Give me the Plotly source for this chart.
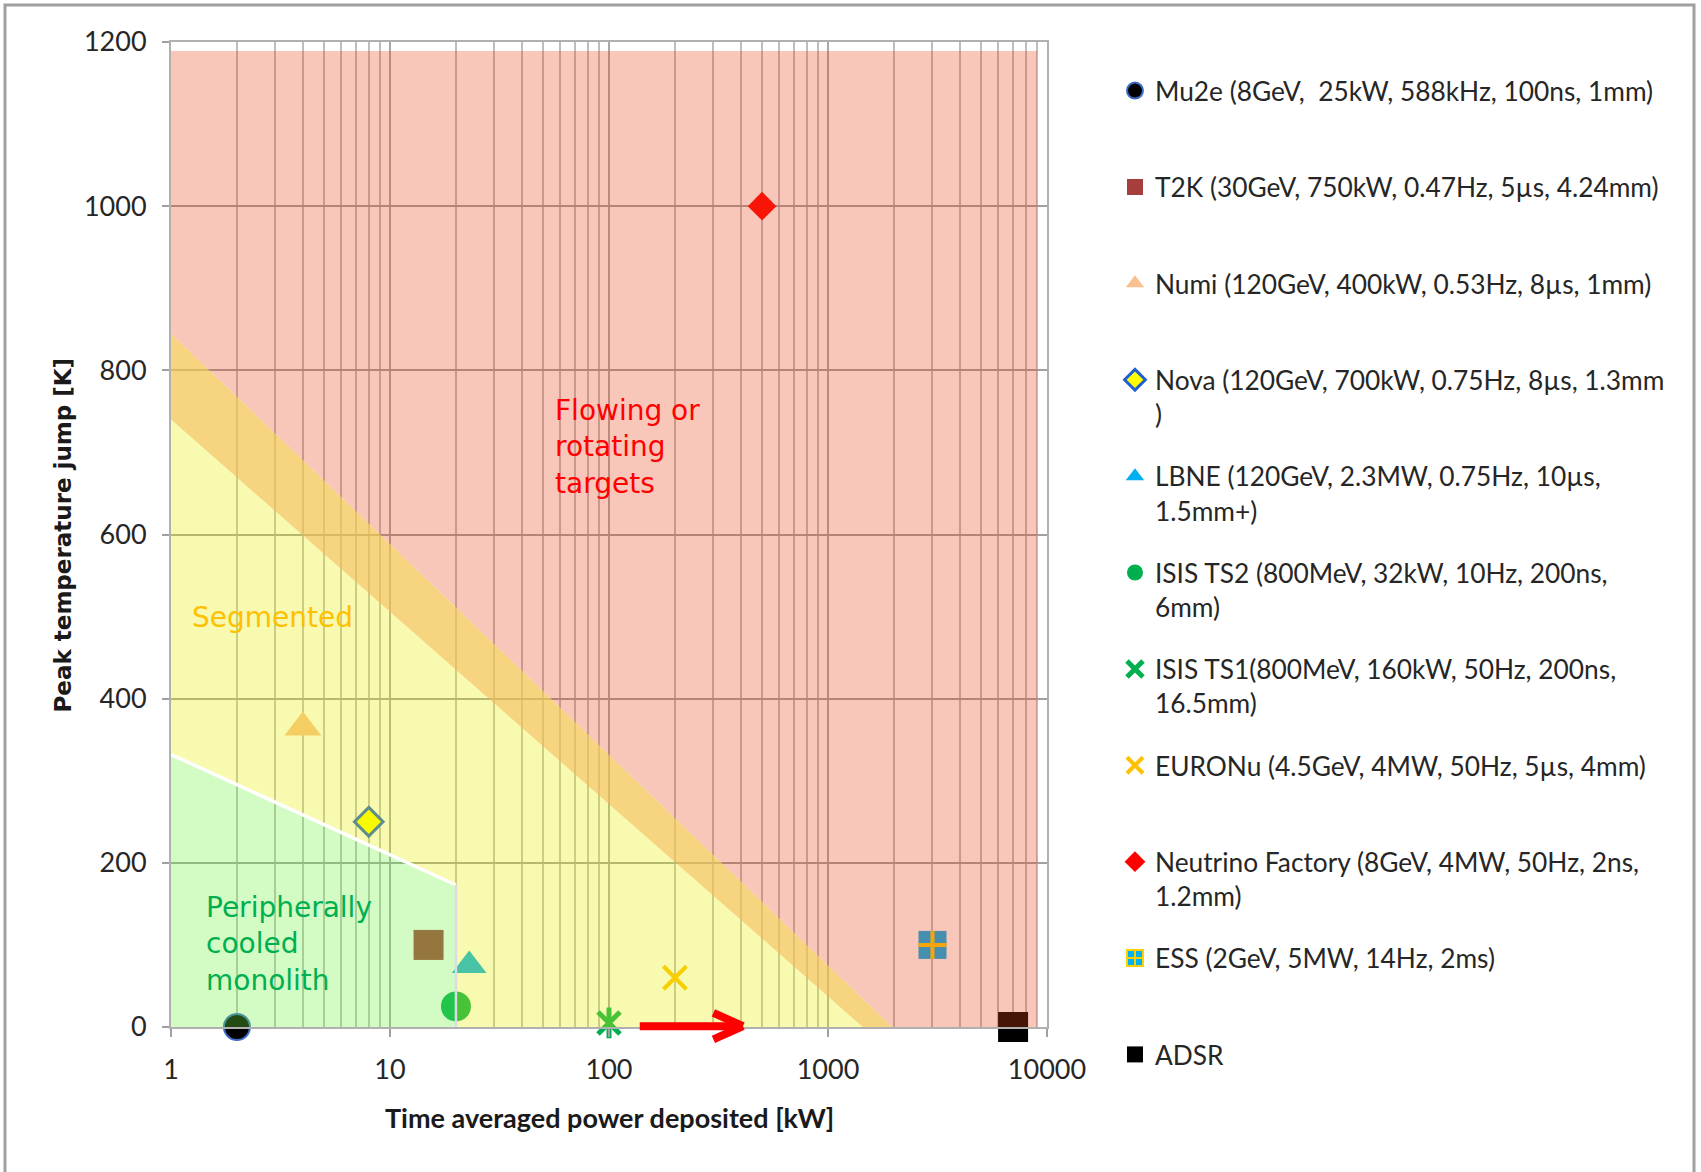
import math
import plotly.graph_objects as go

# ---------------- facility data ----------------
facility_labels = [
    "Mu2e (8GeV,  25kW, 588kHz, 100ns, 1mm)",
    "T2K (30GeV, 750kW, 0.47Hz, 5µs, 4.24mm)",
    "Numi (120GeV, 400kW, 0.53Hz, 8µs, 1mm)",
    "Nova (120GeV, 700kW, 0.75Hz, 8µs, 1.3mm<br>)",
    "LBNE (120GeV, 2.3MW, 0.75Hz, 10µs,<br>1.5mm+)",
    "ISIS TS2 (800MeV, 32kW, 10Hz, 200ns,<br>6mm)",
    "ISIS TS1(800MeV, 160kW, 50Hz, 200ns,<br>16.5mm)",
    "EURONu (4.5GeV, 4MW, 50Hz, 5µs, 4mm)",
    "Neutrino Factory (8GeV, 4MW, 50Hz, 2ns,<br>1.2mm)",
    "ESS (2GeV, 5MW, 14Hz, 2ms)",
    "ADSR",
]
power_kw = [2, 15, 4, 8, 23, 20, 100, 200, 500, 3000, 7000]
peak_dT = [0, 100, 365, 250, 75, 25, 5, 60, 1000, 100, 0]

# ---------------- design regions (kW, K) ----------------
flowing_x = [1, 1, 9000, 9000, 1960, 1]
flowing_y = [845, 1189, 1189, 0, 0, 845]
band_x = [1, 1960, 1440, 1]
band_y = [845, 0, 0, 740]
segmented_x = [1, 1440, 20, 20, 1]
segmented_y = [740, 0, 0, 173, 332]
monolith_x = [1, 20, 20, 1]
monolith_y = [332, 173, 0, 0]
monolith_edge_x = [1, 20]
monolith_edge_y = [332, 173]
monolith_side_x = [20, 20]
monolith_side_y = [173, 0]

# upgrade arrow for ISIS TS1: shaft and chevron head
arrow_x = [136, 409]
arrow_y = [1, 1]
arrow_head_x = [295, 409, 295]
arrow_head_y = [18, 1, -16]

# ---------------- axes ----------------
x_tickvals = [1, 10, 100, 1000, 10000]
x_ticktext = ["1", "10", "100", "1000", "10000"]
y_tickvals = [0, 200, 400, 600, 800, 1000, 1200]
x_minor_vals = [m * 10 ** d for d in range(4) for m in range(2, 10)]

# ---------------- marker styles ----------------
styles = [
    dict(symbol="circle", size=26, color="#000000", line=dict(color="#3B6CC6", width=2)),
    dict(symbol="square", size=30, color="#A43F3D", line=dict(width=0)),
    dict(symbol="triangle-up", size=32, color="#FAC08F", line=dict(width=0)),
    dict(symbol="diamond", size=22, color="#FFFF00", line=dict(color="#1F5FD0", width=3)),
    dict(symbol="triangle-up", size=30, color="#00B0F0", line=dict(width=0)),
    dict(symbol="circle", size=30, color="#00B050", line=dict(width=0)),
    dict(symbol="x-thin-open", size=22, color="#00B050", line=dict(color="#00B050", width=5)),
    dict(symbol="x-thin-open", size=23, color="#FFC000", line=dict(color="#FFC000", width=4)),
    dict(symbol="diamond", size=22, color="#FF0000", line=dict(width=0)),
    dict(symbol="square", size=28, color="#00B0F0", line=dict(width=0)),
    dict(symbol="square", size=30, color="#000000", line=dict(width=0)),
]

fig = go.Figure()

for i, label in enumerate(facility_labels):
    text = label if "<br>" in label else label + "<br>\u00a0"
    st = styles[i]
    group = "g%d" % i
    if label.startswith("ESS"):
        # legend entry: blue square with a yellow cross
        fig.add_trace(go.Scatter(
            x=[None], y=[None], mode="markers", name=text, legendgroup=group,
            marker=dict(symbol="square-cross", size=16, color="#00B0F0",
                        line=dict(color="#FFD000", width=2)),
        ))
        fig.add_trace(go.Scatter(
            x=[power_kw[i]], y=[peak_dT[i]], mode="markers", showlegend=False,
            legendgroup=group, cliponaxis=False, hoverinfo="skip",
            marker=dict(symbol="square", size=st["size"], color=st["color"], line=st["line"]),
        ))
        fig.add_trace(go.Scatter(
            x=[power_kw[i]], y=[peak_dT[i]], mode="markers", showlegend=False,
            legendgroup=group, cliponaxis=False, hoverinfo="skip",
            marker=dict(symbol="cross-thin-open", size=20, color="#FFD000",
                        line=dict(color="#FFD000", width=4)),
        ))
        continue
    fig.add_trace(go.Scatter(
        x=[power_kw[i]], y=[peak_dT[i]], mode="markers", name=text,
        legendgroup=group, cliponaxis=False,
        marker=dict(symbol=st["symbol"], size=st["size"], color=st["color"], line=st["line"]),
    ))
    if label.startswith("ISIS TS1"):
        # vertical stroke of the star marker
        fig.add_trace(go.Scatter(
            x=[power_kw[i]], y=[peak_dT[i]], mode="markers", showlegend=False,
            legendgroup=group, cliponaxis=False, hoverinfo="skip",
            marker=dict(symbol="line-ns-open", size=22, color="#00B050",
                        line=dict(color="#00B050", width=5)),
        ))

# translucent design regions laid over the grid and markers
regions = [
    (flowing_x, flowing_y, "rgba(236,66,26,0.30)"),
    (band_x, band_y, "rgba(244,194,74,0.70)"),
    (segmented_x, segmented_y, "rgba(232,239,0,0.31)"),
    (monolith_x, monolith_y, "rgba(113,242,65,0.31)"),
]
for rx, ry, col in regions:
    fig.add_trace(go.Scatter(
        x=rx, y=ry, mode="lines", fill="toself", fillcolor=col,
        line=dict(width=0), showlegend=False, hoverinfo="skip",
    ))
fig.add_trace(go.Scatter(
    x=monolith_edge_x, y=monolith_edge_y, mode="lines",
    line=dict(color="white", width=3.5), showlegend=False, hoverinfo="skip",
))
fig.add_trace(go.Scatter(
    x=monolith_side_x, y=monolith_side_y, mode="lines",
    line=dict(color="#D9DCE6", width=2.5), showlegend=False, hoverinfo="skip",
))


def arrow_segment(x0, y0, x1, y1):
    return dict(x=math.log10(x1), y=y1, ax=math.log10(x0), ay=y0,
                xref="x", yref="y", axref="x", ayref="y", text="", showarrow=True,
                arrowhead=0, arrowwidth=8, arrowcolor="#FF0000", standoff=0, startstandoff=0)


annotations = [
    arrow_segment(arrow_x[0], arrow_y[0], arrow_x[1], arrow_y[1]),
    arrow_segment(arrow_head_x[0], arrow_head_y[0], arrow_head_x[1], arrow_head_y[1]),
    arrow_segment(arrow_head_x[2], arrow_head_y[2], arrow_head_x[1], arrow_head_y[1]),
    dict(x=0.436, y=0.589, xref="paper", yref="paper", xanchor="left", yanchor="middle",
         align="left", showarrow=False, text="Flowing or<br>rotating<br>targets",
         font=dict(family="Comic Sans MS, DejaVu Sans", size=28, color="#FF0000")),
    dict(x=0.0217, y=0.4157, xref="paper", yref="paper", xanchor="left", yanchor="middle",
         align="left", showarrow=False, text="Segmented",
         font=dict(family="Comic Sans MS, DejaVu Sans", size=28, color="#FFC000")),
    dict(x=0.0377, y=0.0843, xref="paper", yref="paper", xanchor="left", yanchor="middle",
         align="left", showarrow=False, text="Peripherally<br>cooled<br>monolith",
         font=dict(family="Comic Sans MS, DejaVu Sans", size=28, color="#00B050")),
    dict(x=0.501, y=-0.0915, xref="paper", yref="paper", xanchor="center", yanchor="middle",
         showarrow=False, text="<b>Time averaged power deposited [kW]</b>",
         font=dict(family="Lato", size=27, color="#1A1A1A")),
    dict(x=-0.1233, y=0.5, xref="paper", yref="paper", xanchor="center", yanchor="middle",
         textangle=-90, showarrow=False, text="<b>Peak temperature jump [K]</b>",
         font=dict(family="Verdana, DejaVu Sans", size=23, color="#1A1A1A")),
]

fig.update_layout(
    width=1701, height=1172,
    margin=dict(l=171, r=654, t=42, b=145, autoexpand=False),
    paper_bgcolor="white", plot_bgcolor="white",
    font=dict(family="Lato", size=27, color="#262626"),
    annotations=annotations,
    showlegend=True,
    legend=dict(
        x=1.0776, y=0.9746, xanchor="left", yanchor="top",
        font=dict(family="Lato", size=26.3, color="#262626"),
        tracegroupgap=25, valign="top", bgcolor="rgba(0,0,0,0)",
        traceorder="grouped", maxheight=1150,
    ),
    shapes=[
        dict(type="rect", xref="paper", yref="paper",
             x0=-0.1895, x1=1.7386, y0=-0.16, y1=1.0376,
             line=dict(color="#A0A0A0", width=3), fillcolor="rgba(0,0,0,0)", layer="below"),
    ],
    hovermode=False,
)

fig.update_xaxes(
    type="log", range=[0, 4],
    tickvals=x_tickvals, ticktext=x_ticktext,
    ticks="outside", ticklen=8, tickwidth=1.5, tickcolor="#A0A0A0",
    ticklabelstandoff=10,
    tickfont=dict(family="Lato", size=27, color="#262626"),
    showgrid=True, gridcolor="#A8A8A8", gridwidth=1.5,
    minor=dict(tickvals=x_minor_vals, showgrid=True, gridcolor="#BEBEBE", gridwidth=1.5, ticks=""),
    showline=True, linecolor="#B0B0B0", linewidth=2, mirror=True,
    zeroline=False,
)
fig.update_yaxes(
    range=[0, 1200], tickvals=y_tickvals,
    ticks="outside", ticklen=7, tickwidth=1.5, tickcolor="#A0A0A0",
    ticklabelstandoff=10,
    tickfont=dict(family="Lato", size=27, color="#262626"),
    showgrid=True, gridcolor="#A0A0A0", gridwidth=2,
    showline=True, linecolor="#B0B0B0", linewidth=2, mirror=True,
    zeroline=False,
)

fig.write_html("out.html", config={"displayModeBar": False})
